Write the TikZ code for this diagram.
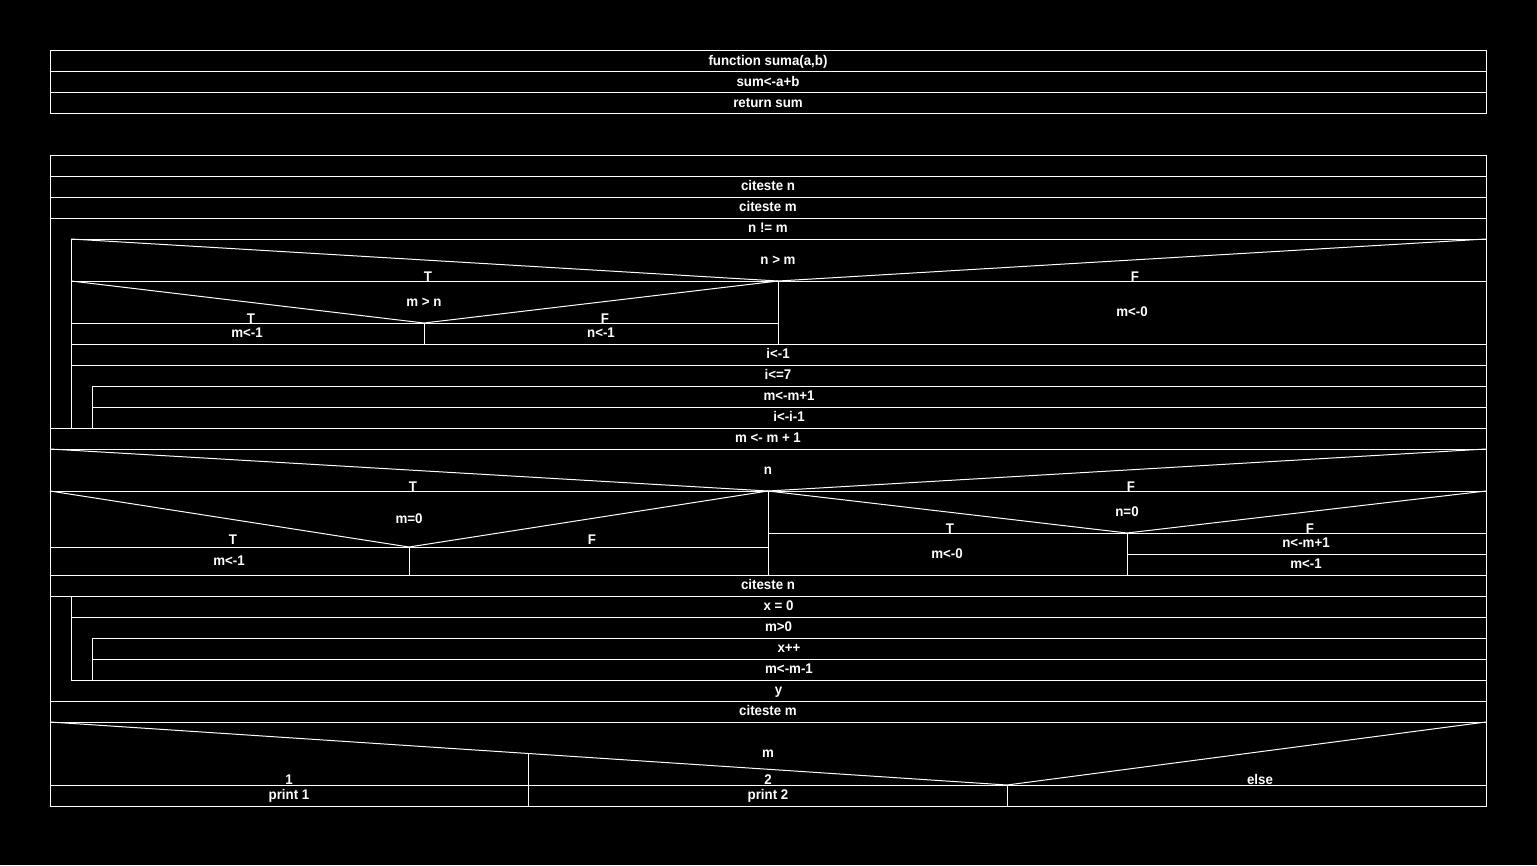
\documentclass[tikz,border=0pt]{standalone}
\usepackage{fontspec}
\setmainfont{Liberation Sans}[FakeStretch=0.95]
\begin{document}
\begin{tikzpicture}[x=1pt,y=-1pt,
  ln/.style={draw=white,line width=1pt},
  txt/.style={text=white,font=\fontsize{14}{16}\selectfont\bfseries,inner sep=0pt,anchor=base,yshift=0.8pt}]
\fill[black] (0,0) rectangle (1537,865);
\useasboundingbox (0,0) rectangle (1537,865);
% ---------- function block ----------
\draw[ln] (50,50) rectangle (1486,113);
\draw[ln] (50,71) -- (1486,71);
\draw[ln] (50,92) -- (1486,92);
\node[txt] (f1) at (768,66) {function suma(a,b)};
\node[txt] (f2) at (768,87) {sum<-a+b};
\node[txt] (f3) at (768,108) {return sum};
% ---------- main block ----------
\draw[ln] (50,155) rectangle (1486,806);
\foreach \yy in {176,197,218,428,449,491,575,596,701,722,785}
  \draw[ln] (50,\yy) -- (1486,\yy);
\foreach \yy in {239,281,344,365,617,680}
  \draw[ln] (71,\yy) -- (1486,\yy);
\foreach \yy in {386,407,638,659}
  \draw[ln] (92,\yy) -- (1486,\yy);
% loop bars
\draw[ln] (71,239) -- (71,428);
\draw[ln] (92,386) -- (92,428);
\draw[ln] (71,596) -- (71,680);
\draw[ln] (92,638) -- (92,680);
% if n > m
\draw[ln] (71,239) -- (778,281) -- (1486,239);
\draw[ln] (778,281) -- (778,344);
\draw[ln] (71,281) -- (424,323) -- (778,281);
\draw[ln] (71,323) -- (778,323);
\draw[ln] (424,323) -- (424,344);
% if n
\draw[ln] (50,449) -- (768,491) -- (1486,449);
\draw[ln] (768,491) -- (768,575);
\draw[ln] (50,491) -- (409,547) -- (768,491);
\draw[ln] (50,547) -- (768,547);
\draw[ln] (409,547) -- (409,575);
\draw[ln] (768,491) -- (1127,533) -- (1486,491);
\draw[ln] (768,533) -- (1486,533);
\draw[ln] (1127,533) -- (1127,575);
\draw[ln] (1127,554) -- (1486,554);
% case m
\draw[ln] (50,722) -- (1007,785) -- (1486,722);
\draw[ln] (528,753.5) -- (528,806);
\draw[ln] (1007,785) -- (1007,806);
% ---------- texts ----------
\node[txt] (t1) at (768,191) {citeste n};
\node[txt] (t2) at (768,212) {citeste m};
\node[txt] (t3) at (768,233) {n != m};
\node[txt] (c1) at (778,265) {n > m};
\node[txt] (c1t) at (428,282) {T};
\node[txt] (c1f) at (1135,282) {F};
\node[txt] (c2) at (424,307) {m > n};
\node[txt] (c2t) at (251,324) {T};
\node[txt] (c2f) at (605,324) {F};
\node[txt] (a1) at (247,338.5) {m<-1};
\node[txt] (a2) at (601,338.5) {n<-1};
\node[txt] (a3) at (1132,317) {m<-0};
\node[txt] (a4) at (778,359.5) {i<-1};
\node[txt] (a5) at (778,380.5) {i<=7};
\node[txt] (a6) at (789,401.5) {m<-m+1};
\node[txt] (a7) at (789,422.5) {i<-i-1};
\node[txt] (a8) at (768,443.5) {m <- m + 1};
\node[txt] (c3) at (768,475) {n};
\node[txt] (c3t) at (413,492) {T};
\node[txt] (c3f) at (1131,492) {F};
\node[txt] (c4) at (409,524) {m=0};
\node[txt] (c4t) at (233,545) {T};
\node[txt] (c4f) at (592,545) {F};
\node[txt] (b1) at (229,566) {m<-1};
\node[txt] (c5) at (1127,517) {n=0};
\node[txt] (c5t) at (950,534) {T};
\node[txt] (c5f) at (1310,534) {F};
\node[txt] (b2) at (947,559) {m<-0};
\node[txt] (b3) at (1306,548.5) {n<-m+1};
\node[txt] (b4) at (1306,569.5) {m<-1};
\node[txt] (d1) at (768,590.5) {citeste n};
\node[txt] (d2) at (778.5,611.5) {x = 0};
\node[txt] (d3) at (778.5,632.5) {m>0};
\node[txt] (d4) at (789,653.5) {x++};
\node[txt] (d5) at (789,674.5) {m<-m-1};
\node[txt] (d6) at (778.5,695.5) {y};
\node[txt] (d7) at (768,716.5) {citeste m};
\node[txt] (c6) at (768,758.5) {m};
\node[txt] (k1) at (289,785.5) {1};
\node[txt] (k2) at (768,785.5) {2};
\node[txt] (k3) at (1260,785.5) {else};
\node[txt] (p1) at (289,800.5) {print 1};
\node[txt] (p2) at (768,800.5) {print 2};
\end{tikzpicture}
\end{document}
